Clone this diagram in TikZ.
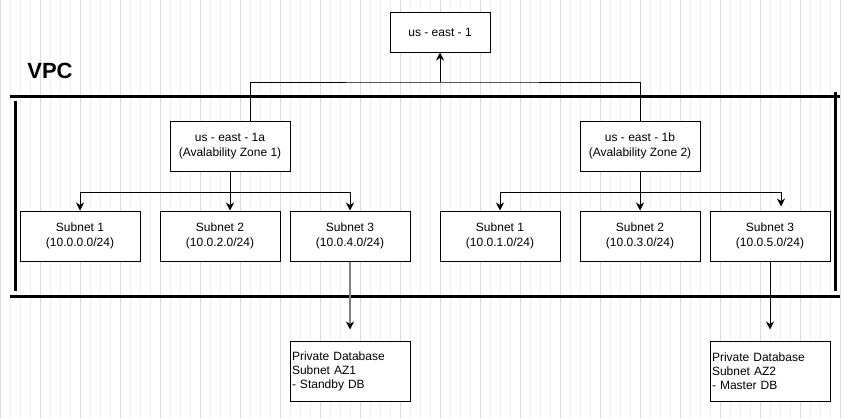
\documentclass[tikz,border=0pt]{standalone}
\usepackage{fontspec}
\setmainfont{Liberation Sans}
\usetikzlibrary{arrows.meta}

\tikzset{
  box/.style={draw, fill=white, line width=1pt, inner sep=0pt, align=center,
    minimum width=120pt, minimum height=50pt, font=\fontsize{12}{15}\selectfont},
  dbbox/.style={box, minimum height=60pt, align=left, text width=116pt,
    inner xsep=2pt, font=\fontsize{12}{14}\selectfont},
  wire/.style={line width=1pt},
  arrow/.style={wire, -{Stealth[length=8pt,width=8pt,inset=2.5pt]}},
  vpcline/.style={line width=3pt},
}

\begin{document}
\begin{tikzpicture}[x=1pt,y=-1pt]
\useasboundingbox (0,0) rectangle (850,418);
\fill[white] (0,0) rectangle (850,418);
% grid paper
\begin{scope}[shift={(0,1)}]
\draw[color=black!6,line width=0.8pt,step=10] (0,-1) grid (850,417);
\draw[color=black!14,line width=0.8pt,step=40] (0,-1) grid (850,417);
\end{scope}

% VPC frame
\node[font=\fontsize{22}{24}\selectfont\bfseries] (vpc) at (50,71) {VPC};
\draw[vpcline] (10,96) -- (840,96);
\draw[vpcline] (10,296) -- (840,296);
\draw[vpcline] (15,101) -- (15,291);
\draw[vpcline] (835,92) -- (835,291);

% region and zones
\node[box,minimum width=100pt,minimum height=40pt] (region) at (440,32) {us - east - 1};
\node[box] (az1) at (230,146) {us - east - 1a\\(Avalability Zone 1)};
\node[box] (az2) at (640,146) {us - east - 1b\\(Avalability Zone 2)};

% subnets
\node[box] (sa1) at (80,236) {Subnet 1\\(10.0.0.0/24)};
\node[box] (sa2) at (220,236) {Subnet 2\\(10.0.2.0/24)};
\node[box] (sa3) at (350,236) {Subnet 3\\(10.0.4.0/24)};
\node[box] (sb1) at (500,236) {Subnet 1\\(10.0.1.0/24)};
\node[box] (sb2) at (640,236) {Subnet 2\\(10.0.3.0/24)};
\node[box] (sb3) at (770,236) {Subnet 3\\(10.0.5.0/24)};

% databases
\node[dbbox] (db1) at (350,371) {Private Database\\Subnet AZ1\\- Standby DB};
\node[dbbox] (db2) at (770,371) {Private Database\\Subnet AZ2\\- Master DB};

% connectors
\coordinate (bus) at (440,82);
\coordinate (splita) at (230,192);
\coordinate (splitb) at (640,192);
\draw[wire] ([xshift=20pt]az1.north) |- (bus) -| (az2.north);
\draw[arrow] (bus) -- (region.south);
\draw[arrow] (az1.south) -- (splita) -| (sa1.north);
\draw[arrow] (az1.south) -- (az1.south |- sa2.north);
\draw[arrow] (splita) -| (sa3.north);
\draw[arrow] (az2.south) -- (splitb) -| (sb1.north);
\draw[arrow] (az2.south) -- (sb2.north);
\draw[arrow] (splitb) -| ([xshift=11pt,yshift=4pt]sb3.north);
\draw[arrow,color=black!50,line width=1.5pt,-{Stealth[black,length=8pt,width=8pt,inset=2.5pt]},shorten >=11pt] (sa3.south) -- (db1.north);
\draw[arrow,shorten >=11pt] (sb3.south) -- (db2.north);
\end{tikzpicture}
\end{document}
